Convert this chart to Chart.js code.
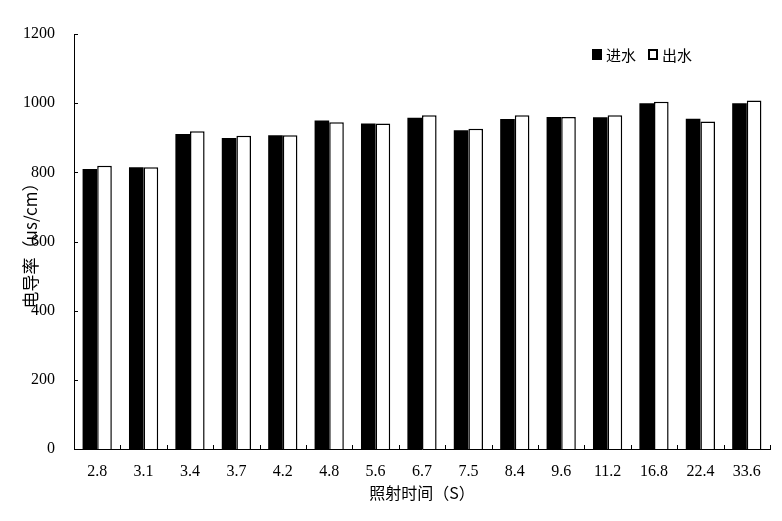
<!DOCTYPE html>
<html><head><meta charset="utf-8">
<script src="https://cdn.jsdelivr.net/npm/chart.js@4.4.1/dist/chart.umd.min.js"></script>
<style>html,body{margin:0;padding:0;background:#fff;}#wrap{width:782px;height:521px;position:relative;}</style>
</head><body><div id="wrap"><canvas id="c"></canvas></div>
<script>
const categories = ['2.8','3.1','3.4','3.7','4.2','4.8','5.6','6.7','7.5','8.4','9.6','11.2','16.8','22.4','33.6'];
const inflow  = [810, 815, 911, 899, 907, 950, 941, 958, 922, 954, 960, 959, 1000, 955, 1000];
const outflow = [819, 815, 919, 906, 907, 945, 941, 965, 926, 965, 960, 965, 1004, 947, 1008];
const yTickValues = [0, 200, 400, 600, 800, 1000, 1200];
const seriesLabels = ['进水', '出水'];
const yTitle = '电导率（us/cm）';
const xTitle = '照射时间（S）';

const cjk = '"Noto Sans CJK SC", "Noto Sans", sans-serif';
const serif = '"Liberation Serif", "DejaVu Serif", serif';

const innerTicks = {
  id: 'innerTicks',
  afterDatasetsDraw(chart) {
    const {ctx, scales: {x, y}, chartArea} = chart;
    ctx.save();
    ctx.strokeStyle = '#000';
    ctx.lineWidth = 1;
    ctx.beginPath();
    const step = x.width / categories.length;
    for (let i = 1; i <= categories.length; i++) {
      const px = Math.round(x.left + i * step) + 0.5;
      ctx.moveTo(px, chartArea.bottom);
      ctx.lineTo(px, chartArea.bottom - 4);
    }
    y.ticks.forEach(t => {
      const py = Math.round(y.getPixelForValue(t.value)) + 0.5;
      ctx.moveTo(chartArea.left, py);
      ctx.lineTo(chartArea.left + 4, py);
    });
    ctx.stroke();
    ctx.restore();
  },
  afterDraw(chart) {
    const {ctx, chartArea} = chart;
    ctx.save();
    ctx.font = '15px ' + cjk;
    ctx.textBaseline = 'middle';
    let lx = chartArea.right - 178;
    const ly = chartArea.top + 21;
    chart.data.datasets.forEach((ds, i) => {
      if (i === 0) {
        ctx.fillStyle = '#000';
        ctx.fillRect(lx, ly - 6, 10, 11);
      } else {
        ctx.fillStyle = '#fff';
        ctx.fillRect(lx, ly - 6, 10, 11);
        ctx.strokeStyle = '#000';
        ctx.lineWidth = 2;
        ctx.strokeRect(lx + 1, ly - 5, 8, 9);
      }
      ctx.fillStyle = '#000';
      ctx.fillText(ds.label, lx + 14, ly);
      lx += 14 + ctx.measureText(ds.label).width + 12;
    });
    ctx.restore();
  }
};

new Chart(document.getElementById('c'), {
  type: 'bar',
  data: {
    labels: categories,
    datasets: [
      {label: seriesLabels[0], data: inflow, backgroundColor: '#000', borderColor: '#000', borderWidth: 0},
      {label: seriesLabels[1], data: outflow, backgroundColor: '#fff', borderColor: '#000', borderWidth: 1.5}
    ]
  },
  options: {
    responsive: true,
    maintainAspectRatio: false,
    animation: false,
    devicePixelRatio: 1,
    layout: {padding: {left: 0, right: 12, top: 34, bottom: 0}},
    datasets: {bar: {categoryPercentage: 0.63, barPercentage: 1.0}},
    plugins: {legend: {display: false}, tooltip: {enabled: false}},
    scales: {
      x: {
        grid: {display: false},
        border: {display: true, color: '#000', width: 1},
        ticks: {color: '#000', font: {family: serif, size: 16}, padding: 5, maxRotation: 0},
        title: {display: true, text: xTitle, color: '#000', font: {family: cjk, size: 16}, padding: {top: 0, bottom: 18}},
        afterFit(scale) { scale.height = 72; }
      },
      y: {
        min: 0, max: 1200,
        afterBuildTicks(scale) { scale.ticks = yTickValues.map(v => ({value: v})); },
        grid: {display: false},
        border: {display: true, color: '#000', width: 1},
        ticks: {color: '#000', font: {family: serif, size: 16}, padding: 11, callback: v => String(v)},
        title: {display: true, text: yTitle, color: '#000', font: {family: cjk, size: 17}, padding: {top: 20, bottom: 0}},
        afterFit(scale) { scale.width = 74; }
      }
    }
  },
  plugins: [innerTicks]
});
</script>
</body></html>
